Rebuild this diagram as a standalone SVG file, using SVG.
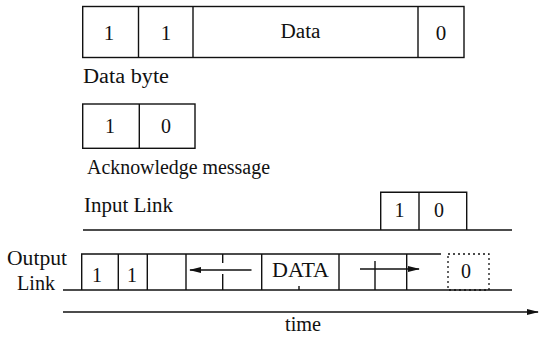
<svg xmlns="http://www.w3.org/2000/svg" width="550" height="342" viewBox="0 0 550 342" font-family="'Liberation Serif', 'Times New Roman', Times, serif">
<style>
  text { font-family: "Liberation Serif", "Times New Roman", Tinos, "DejaVu Serif", "Noto Serif", Times, serif; font-size: 20px; fill: #111; }
  .c { text-anchor: middle; }
  .ln { stroke: #111; stroke-width: 1.4; fill: none; }
  .box { stroke: #111; stroke-width: 1.4; fill: #fff; }
  .dot { stroke: #111; stroke-width: 1.3; fill: none; stroke-dasharray: 2 3; }
</style>
<defs>
  <marker id="ah" markerWidth="12" markerHeight="8" refX="11" refY="4" orient="auto" markerUnits="userSpaceOnUse">
    <path d="M0,1 L12,4 L0,7 Z" fill="#111"/>
  </marker>
</defs>

<g id="data-byte">
  <rect class="box" x="82.7" y="6.5" width="381.3" height="51"/>
  <line class="ln" x1="138.5" y1="6.5" x2="138.5" y2="57.5"/>
  <line class="ln" x1="193" y1="6.5" x2="193" y2="57.5"/>
  <line class="ln" x1="418" y1="6.5" x2="418" y2="57.5"/>
  <text class="c" x="109" y="39.5" style="font-size:21px">1</text>
  <text class="c" x="166" y="39.5" style="font-size:21px">1</text>
  <text class="c" x="300.5" y="38" textLength="40" lengthAdjust="spacingAndGlyphs">Data</text>
  <text class="c" x="441" y="39.5" style="font-size:21px">0</text>
  <text x="83" y="83" textLength="86" lengthAdjust="spacingAndGlyphs">Data byte</text>
</g>

<g id="ack-message">
  <rect class="box" x="82.7" y="104" width="112.3" height="44.3"/>
  <line class="ln" x1="139.3" y1="104" x2="139.3" y2="148.3"/>
  <text class="c" x="110" y="133.3">1</text>
  <text class="c" x="166" y="133.3">0</text>
  <text x="87" y="174" textLength="183" lengthAdjust="spacingAndGlyphs">Acknowledge message</text>
</g>

<g id="input-link">
  <text x="84" y="211.7" textLength="89" lengthAdjust="spacingAndGlyphs">Input Link</text>
  <line class="ln" x1="83" y1="230" x2="512" y2="230"/>
  <path class="ln" d="M380.7,230 V192.3 H466.7 V230"/>
  <line class="ln" x1="419" y1="192.3" x2="419" y2="230"/>
  <text class="c" x="399.5" y="216.7">1</text>
  <text class="c" x="439" y="216.7">0</text>
</g>

<g id="output-link">
  <text x="7" y="265" textLength="60" lengthAdjust="spacingAndGlyphs">Output</text>
  <text x="17" y="290" textLength="38" lengthAdjust="spacingAndGlyphs">Link</text>
  <line class="ln" x1="63" y1="290" x2="512" y2="290"/>
  <path class="ln" d="M81.7,290 V254 H441"/>
  <line class="ln" x1="118.3" y1="254" x2="118.3" y2="290"/>
  <line class="ln" x1="147.3" y1="254" x2="147.3" y2="290"/>
  <line class="ln" x1="186" y1="254" x2="186" y2="290"/>
  <line class="ln" x1="222.7" y1="254" x2="222.7" y2="263"/>
  <line class="ln" x1="222.7" y1="274" x2="222.7" y2="290"/>
  <line class="ln" x1="261.7" y1="254" x2="261.7" y2="290"/>
  <line class="ln" x1="299" y1="286" x2="299" y2="290"/>
  <line class="ln" x1="339" y1="254" x2="339" y2="290"/>
  <line class="ln" x1="375" y1="261" x2="375" y2="290"/>
  <line class="ln" x1="406.7" y1="254" x2="406.7" y2="290"/>
  <rect class="dot" x="448" y="254" width="41" height="36"/>
  <text class="c" x="97" y="281.5">1</text>
  <text class="c" x="132" y="281.5">1</text>
  <text class="c" x="300.5" y="277" textLength="57" lengthAdjust="spacingAndGlyphs">DATA</text>
  <text class="c" x="466" y="278">0</text>
</g>

<g id="time-axis">
  <text class="c" x="303" y="331" textLength="36" lengthAdjust="spacingAndGlyphs">time</text>
</g>

<g id="connectors">
  <line class="ln" x1="251.5" y1="270" x2="190" y2="270" marker-end="url(#ah)"/>
  <line class="ln" x1="360" y1="269" x2="419" y2="269" marker-end="url(#ah)"/>
  <line class="ln" x1="63" y1="312" x2="538" y2="312" marker-end="url(#ah)"/>
</g>
</svg>
